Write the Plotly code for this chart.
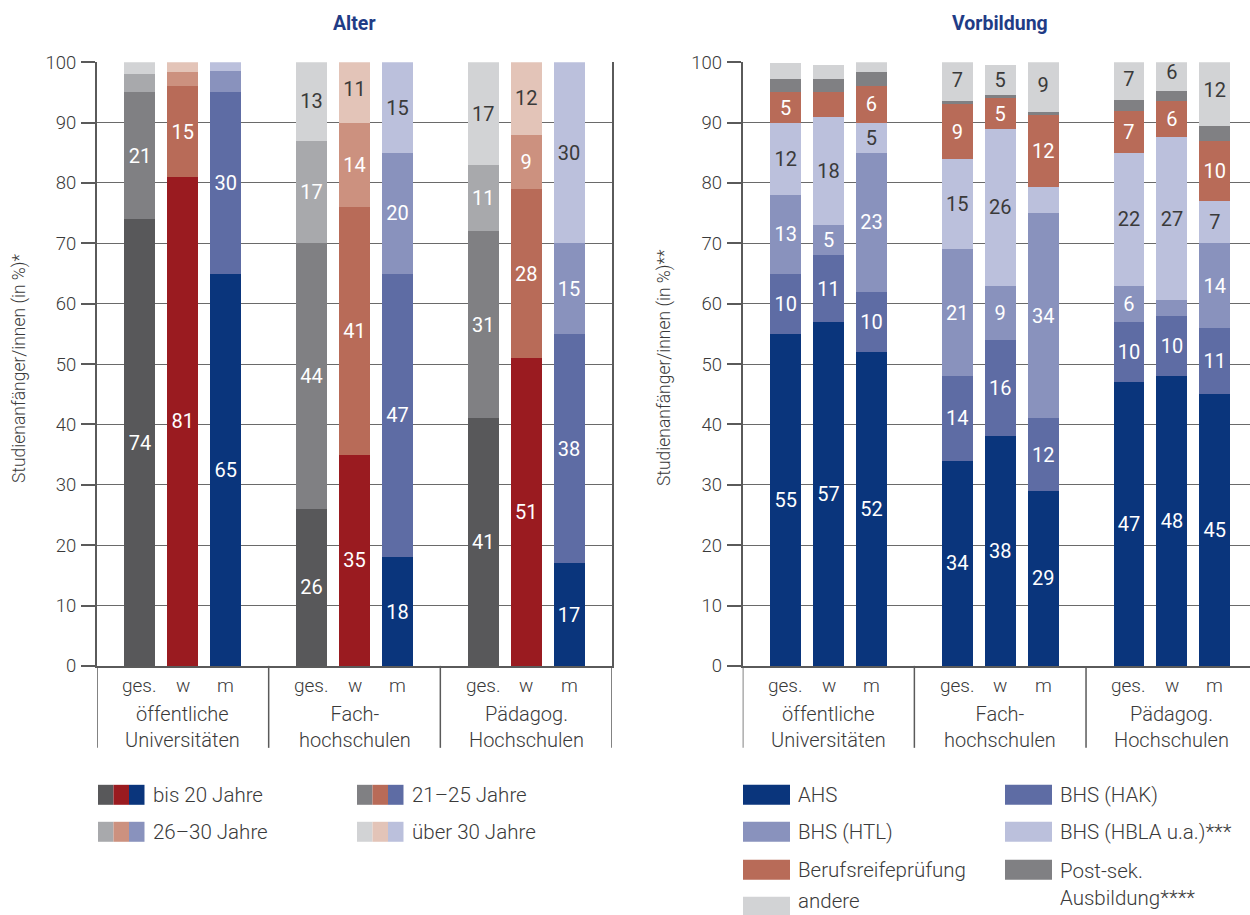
import plotly.graph_objects as go

W, H = 1250, 915

# ---- categories -------------------------------------------------------------
groups = ["öffentliche<br>Universitäten", "Fach-<br>hochschulen", "Pädagog.<br>Hochschulen"]
subs = ["ges.", "w", "m"]

# ---- Alter (order per series: Uni ges/w/m, FH ges/w/m, PH ges/w/m) ----------
alter_bis20 = [74, 81, 65, 26, 35, 18, 41, 51, 17]
alter_21_25 = [21, 15, 30, 44, 41, 47, 31, 28, 38]
alter_26_30 = [3, 2.3, 3.5, 17, 14, 20, 11, 9, 15]
alter_ueber30 = [2, 1.9, 1.5, 13, 11, 15, 17, 12, 30]

# ---- Vorbildung ---------------------------------------------------------------
vb_ahs = [55, 57, 52, 34, 38, 29, 47, 48, 45]
vb_hak = [10, 11, 10, 14, 16, 12, 10, 10, 11]
vb_htl = [13, 5, 23, 21, 9, 34, 6, 2.6, 14]
vb_hbla = [12, 18, 5, 15, 26, 4.3, 22, 27, 7]
vb_brp = [5, 4, 6, 9, 5, 12, 7, 6, 10]
vb_postsek = [2.2, 2.3, 2.3, 0.5, 0.5, 0.4, 1.8, 1.7, 2.4]
vb_andere = [2.6, 2.3, 2.9, 7, 5, 9, 7, 6, 12]

LABEL_MIN = 5  # segments below this share get no value label

# ---- styling --------------------------------------------------------------------
FONT = "Roboto"
TXT = "#3a3a3a"
GRID = "#6a6a6a"
AXIS = "#5a5a5a"
TITLE_BLUE = "#1f3c86"

GRAY = ["#58585a", "#808083", "#a8a9ac", "#d2d3d5"]
RED = ["#9a1b20", "#b86b58", "#cc917f", "#e3c4b8"]
BLUE = ["#0a357c", "#5e6ca4", "#8992bd", "#bbc0dc"]

alter_series = [
    ("bis 20 Jahre", alter_bis20, 0, "white"),
    ("21–25 Jahre", alter_21_25, 1, "white"),
    ("26–30 Jahre", alter_26_30, 2, "white"),
    ("über 30 Jahre", alter_ueber30, 3, TXT),
]

vb_series = [
    ("AHS", vb_ahs, BLUE[0], "white"),
    ("BHS (HAK)", vb_hak, BLUE[1], "white"),
    ("BHS (HTL)", vb_htl, BLUE[2], "white"),
    ("BHS (HBLA u.a.)***", vb_hbla, BLUE[3], TXT),
    ("Berufsreifeprüfung", vb_brp, RED[1], "white"),
    ("Post-sek.<br>Ausbildung****", vb_postsek, GRAY[1], "white"),
    ("andere", vb_andere, GRAY[3], TXT),
]

SUB_OFFSETS = [-0.25, 0.0, 0.25]
BAR_W = 0.18
xpos = [g + 1 + o for g in range(len(groups)) for o in SUB_OFFSETS]

# vertical layout grid is laid out on a slightly stretched canvas
V_SCALE = 915 / 937.0


def px(x):
    return x / W


def vy(y):
    return H / 2 + (y - H / 2) / V_SCALE


def py(y):
    return 1 - vy(y) / H


def labels(vals):
    return [(f"{v:g}" if v >= LABEL_MIN else "") for v in vals]


LABEL_FONT = dict(size=20, family=FONT, weight=400)

fig = go.Figure()

# Alter: each age class is one stacked layer, coloured per sex (ges./w/m)
for name, vals, shade, tcol in alter_series:
    colors = [GRAY[shade], RED[shade], BLUE[shade]] * len(groups)
    fig.add_trace(go.Bar(
        x=xpos, y=vals, width=BAR_W, name=name,
        marker=dict(color=colors, line=dict(width=0)),
        text=labels(vals), textposition="inside", insidetextanchor="middle",
        textangle=0, textfont=dict(LABEL_FONT, color=tcol),
        xaxis="x", yaxis="y", showlegend=False, hoverinfo="skip",
    ))

# Vorbildung: one stacked layer per school type
for name, vals, col, tcol in vb_series:
    fig.add_trace(go.Bar(
        x=xpos, y=vals, width=BAR_W, name=name,
        marker=dict(color=col, line=dict(width=0)),
        text=labels(vals), textposition="inside", insidetextanchor="middle",
        textangle=0, textfont=dict(LABEL_FONT, color=tcol),
        xaxis="x2", yaxis="y2", showlegend=False, hoverinfo="skip",
    ))

# ---- axes -------------------------------------------------------------------------
L_X0, L_X1 = 97, 612
R_X0 = 742.7
PLOT_TOP, PLOT_BOT = 62, 666
unit_px = (L_X1 - L_X0) / 3.0
r_range_end = 0.5 + (W - R_X0) / unit_px

yax = dict(
    range=[0, 100], tickvals=list(range(0, 101, 10)),
    ticks="outside", ticklen=14, tickwidth=1.5, tickcolor=AXIS,
    ticklabelstandoff=1,
    tickfont=dict(size=18.5, color=TXT, family=FONT, weight=300),
    showgrid=True, gridcolor=GRID, gridwidth=1.2,
    showline=True, linecolor=AXIS, linewidth=2,
    zeroline=False, fixedrange=True,
    domain=[py(PLOT_BOT), py(PLOT_TOP)],
)
xax = dict(showticklabels=False, showgrid=False, zeroline=False, ticks="",
           showline=True, linecolor=AXIS, linewidth=1.5, fixedrange=True)

fig.update_layout(
    width=W, height=H,
    margin=dict(l=0, r=0, t=0, b=0),
    paper_bgcolor="white", plot_bgcolor="white",
    barmode="stack",
    font=dict(family=FONT, color=TXT, size=18, weight=300),
    uniformtext=dict(mode="show", minsize=20),
    xaxis=dict(xax, domain=[px(L_X0), px(L_X1)], range=[0.5, 3.5], anchor="y"),
    yaxis=dict(yax, anchor="x", mirror=True),
    xaxis2=dict(xax, domain=[px(R_X0), 1.0], range=[0.5, r_range_end], anchor="y2"),
    yaxis2=dict(yax, anchor="x2"),
)

shapes = []
annotations = []

# category labels and group separators below both charts
SEP_BOT = 748
for xa, seps in (("x", [0.5, 1.5, 2.5, 3.5]), ("x2", [0.5, 1.5, 2.5])):
    for s in seps:
        shapes.append(dict(type="line", xref=xa, yref="paper", x0=s, x1=s,
                           y0=py(PLOT_BOT), y1=py(SEP_BOT),
                           line=dict(color=AXIS, width=1.5)))
    for i, x in enumerate(xpos):
        annotations.append(dict(xref=xa, yref="paper", x=x, y=py(686),
                                text=subs[i % 3], showarrow=False,
                                font=dict(size=19, color=TXT),
                                xanchor="center", yanchor="middle"))
    for g, gname in enumerate(groups):
        annotations.append(dict(xref=xa, yref="paper", x=g + 1, y=py(727),
                                text=gname, showarrow=False,
                                font=dict(size=20, color=TXT),
                                xanchor="center", yanchor="middle"))

# chart titles
for xc, t in ((355, "Alter"), (1000, "Vorbildung")):
    annotations.append(dict(xref="paper", yref="paper", x=px(xc), y=py(23), text=f"<b>{t}</b>",
                            showarrow=False, font=dict(size=19.5, color=TITLE_BLUE, weight=700),
                            xanchor="center", yanchor="middle"))

# y-axis titles
for xc, t in ((19, "Studienanfänger/innen (in %)*"), (664, "Studienanfänger/innen (in %)**")):
    annotations.append(dict(xref="paper", yref="paper", x=px(xc), y=py(368), text=t,
                            textangle=-90, showarrow=False, font=dict(size=17.5, color=TXT),
                            xanchor="center", yanchor="middle"))

# legend: Alter (three-colour swatches)
SW_H = 20
LEG_FONT = dict(size=20.5, color=TXT)
alter_leg = [(98, 795, 0), (357, 795, 1), (98, 832, 2), (357, 832, 3)]
for (x0, yc, shade), (name, _, _, _) in zip(alter_leg, alter_series):
    for k, pal in enumerate((GRAY, RED, BLUE)):
        shapes.append(dict(type="rect", xref="paper", yref="paper",
                           x0=px(x0 + k * 15.5), x1=px(x0 + (k + 1) * 15.5),
                           y0=py(yc + SW_H / 2), y1=py(yc - SW_H / 2),
                           fillcolor=pal[shade], line=dict(width=0)))
    annotations.append(dict(xref="paper", yref="paper", x=px(x0 + 53), y=py(yc),
                            text=name, showarrow=False, font=LEG_FONT,
                            xanchor="left", yanchor="middle"))

# legend: Vorbildung (last row sits on the bottom edge)
vb_leg = [(743, 795), (1005, 795), (743, 832), (1005, 832), (743, 870), (1005, 870), (743, 907)]
for (x0, yc), (name, _, col, _) in zip(vb_leg, vb_series):
    shapes.append(dict(type="rect", xref="paper", yref="paper",
                       x0=px(x0), x1=px(x0 + 47),
                       y0=py(yc + SW_H / 2), y1=py(yc - SW_H / 2),
                       fillcolor=col, line=dict(width=0)))
    two_line = "<br>" in name
    if two_line:
        ty, anchor = py(yc - 13), "top"
    else:
        ty, anchor = py(min(yc, 901)), "middle"
    annotations.append(dict(xref="paper", yref="paper", x=px(x0 + 53), y=ty,
                            text=name, showarrow=False, align="left",
                            font=LEG_FONT, xanchor="left", yanchor=anchor))

fig.update_layout(shapes=shapes, annotations=annotations)
fig.write_html("out.html")
